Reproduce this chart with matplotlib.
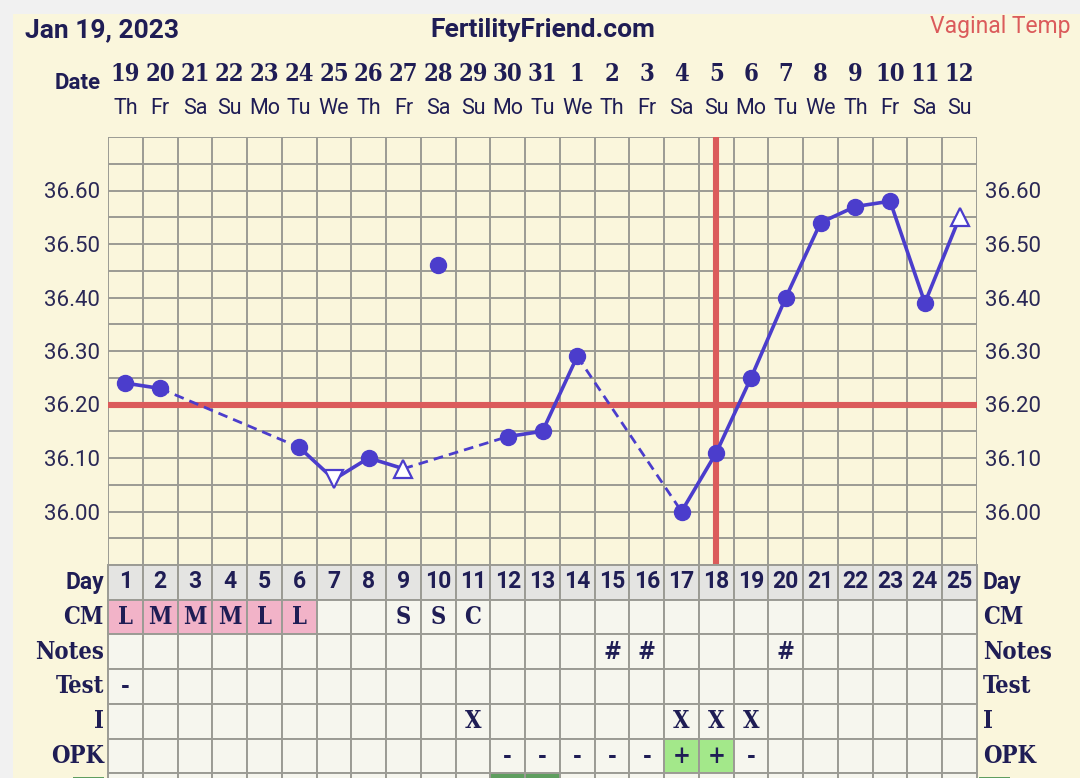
import matplotlib
matplotlib.use("Agg")
import matplotlib.pyplot as plt
from matplotlib.patches import Rectangle
import numpy as np

# ---------------- data ----------------
title_date = "Jan 19, 2023"
site_name = "FertilityFriend.com"
temp_type = "Vaginal Temp"
dates = ["19", "20", "21", "22", "23", "24", "25", "26", "27", "28", "29", "30", "31",
         "1", "2", "3", "4", "5", "6", "7", "8", "9", "10", "11", "12"]
weekdays = ["Th", "Fr", "Sa", "Su", "Mo", "Tu", "We", "Th", "Fr", "Sa", "Su", "Mo", "Tu",
            "We", "Th", "Fr", "Sa", "Su", "Mo", "Tu", "We", "Th", "Fr", "Sa", "Su"]
cycle_days = list(range(1, 26))
temps = [36.24, 36.23, None, None, None, 36.12, 36.06, 36.10, 36.08, 36.46,
         None, 36.14, 36.15, 36.29, None, None, 36.00, 36.11, 36.25, 36.40,
         36.54, 36.57, 36.58, 36.39, 36.55]
discarded_days = [10]
open_down_days = [7]
open_up_days = [9, 25]
coverline = 36.20
ovulation_day = 18
ytick_values = [36.00, 36.10, 36.20, 36.30, 36.40, 36.50, 36.60]
y_min, y_max, y_step = 35.90, 36.70, 0.05

row_labels = ["Day", "CM", "Notes", "Test", "I", "OPK"]
cm_marks = {1: "L", 2: "M", 3: "M", 4: "M", 5: "L", 6: "L", 9: "S", 10: "S", 11: "C"}
cm_pink_days = [1, 2, 3, 4, 5, 6]
notes_marks = {15: "#", 16: "#", 20: "#"}
test_marks = {1: "-"}
intercourse_marks = {11: "X", 17: "X", 18: "X", 19: "X"}
opk_marks = {12: "-", 13: "-", 14: "-", 15: "-", 16: "-", 17: "+", 18: "+", 19: "-"}
opk_positive_days = [17, 18]
next_row_green_days = [12, 13]

# ---------------- style ----------------
CREAM = "#faf6dc"
OUTER = "#f1f1f1"
GRID = "#9b9b94"
NAVY = "#1f1d55"
BLUE = "#4b3dcc"
RED = "#db5b5b"
CELL = "#f6f6ee"
DAYCELL = "#e4e4e2"
PINK = "#f2b3c8"
LGREEN = "#a3e88a"
DGREEN = "#5f9e5f"
SANS = "Roboto"
SLAB = "DejaVu Serif"

W, H = 1080, 778
fig = plt.figure(figsize=(W / 100, H / 100), dpi=100)
fig.patch.set_facecolor(OUTER)


def fx(px):
    return px / W


def fy(py):
    return 1 - py / H


fig.add_artist(Rectangle((fx(13), 0), 1 - fx(13), fy(14), transform=fig.transFigure,
                         facecolor=CREAM, edgecolor="none", zorder=0))

GL, GR, GT, GB = 108, 977, 137, 565
COLW = (GR - GL) / 25.0

# ---------------- temperature chart ----------------
ax = fig.add_axes([fx(GL), fy(GB), (GR - GL) / W, (GB - GT) / H])
ax.set_facecolor(CREAM)
ax.set_xlim(0.5, 25.5)
ax.set_ylim(y_min, y_max)
for s in ax.spines.values():
    s.set_visible(False)
for xv in np.arange(0.5, 25.6, 1.0):
    ax.axvline(xv, color=GRID, lw=1.4, zorder=1)
for yv in np.arange(y_min, y_max + 1e-6, y_step):
    ax.axhline(yv, color=GRID, lw=1.4, zorder=1)

ax.axhline(coverline, color=RED, lw=4.4, zorder=2)
ax.axvline(ovulation_day, color=RED, lw=4.4, zorder=2)

valid = [(d, t) for d, t in zip(cycle_days, temps) if t is not None and d not in discarded_days]
for (d0, t0), (d1, t1) in zip(valid[:-1], valid[1:]):
    if d1 - d0 == 1:
        ax.plot([d0, d1], [t0, t1], color=BLUE, lw=2.6, zorder=3, solid_capstyle="round")
    else:
        ax.plot([d0, d1], [t0, t1], color=BLUE, lw=2.0, ls=(0, (3.5, 2.2)), zorder=3)

for d, t in zip(cycle_days, temps):
    if t is None:
        continue
    if d in open_down_days:
        ax.plot(d, t, marker="v", ms=13, mfc="white", mec=BLUE, mew=1.6, zorder=4)
    elif d in open_up_days:
        ax.plot(d, t, marker="^", ms=13, mfc="white", mec=BLUE, mew=1.6, zorder=4)
    else:
        ax.plot(d, t, marker="o", ms=11.5, color=BLUE, zorder=4)

ax.set_xticks([])
ax.set_yticks(ytick_values)
ax.set_yticklabels([f"{v:.2f}" for v in ytick_values])
ax.tick_params(axis="y", length=0, labelleft=True, labelright=True, pad=6,
               labelsize=16, labelcolor="#2a2856")
for lab in ax.get_yticklabels():
    lab.set_fontfamily(SANS)

# date header
xt = ax.get_xaxis_transform()


def afrac(py):
    return (GB - py) / (GB - GT)


for d, ds, wd in zip(cycle_days, dates, weekdays):
    ax.text(d, afrac(74), ds, transform=xt, ha="center", va="center", fontsize=17,
            fontweight="bold", family=SLAB, fontstretch="condensed", color=NAVY)
    ax.text(d, afrac(108), wd, transform=xt, ha="center", va="center", fontsize=15.5,
            family=SANS, color=NAVY)

fig.text(fx(101), fy(83), "Date", ha="right", va="center", fontsize=16,
         fontweight="bold", family=SANS, color=NAVY)
fig.text(fx(25), fy(30), title_date, ha="left", va="center", fontsize=19,
         fontweight="bold", family=SANS, color=NAVY)
fig.text(fx(543), fy(30), site_name, ha="center", va="center", fontsize=19,
         fontweight="bold", family=SANS, color=NAVY)
fig.text(fx(1070), fy(27), temp_type, ha="right", va="center", fontsize=16.5,
         family=SANS, color=RED)

# ---------------- table ----------------
ROWH = 34.7
tab = fig.add_axes([fx(GL), 0, (GR - GL) / W, (H - GB) / H])
tab.set_xlim(0.5, 25.5)
tab.set_ylim((H - GB) / ROWH, 0)
tab.axis("off")

row_data = [None, cm_marks, notes_marks, test_marks, intercourse_marks, opk_marks, {}]
for r in range(7):
    for d in cycle_days:
        fc = CELL
        if r == 0:
            fc = DAYCELL
        elif r == 1 and d in cm_pink_days:
            fc = PINK
        elif r == 5 and d in opk_positive_days:
            fc = LGREEN
        elif r == 6 and d in next_row_green_days:
            fc = DGREEN
        tab.add_patch(Rectangle((d - 0.5, r), 1, 1, facecolor=fc, edgecolor=GRID, lw=1.4,
                                zorder=1, clip_on=False))
        if r == 0:
            tab.text(d, r + 0.48, str(d), ha="center", va="center", fontsize=16.5,
                     fontweight="bold", family=SANS, color=NAVY, zorder=3)
        elif row_data[r] and d in row_data[r]:
            tab.text(d, r + 0.5, row_data[r][d], ha="center", va="center", fontsize=17,
                     fontweight="bold", family=SLAB, fontstretch="condensed",
                     color=NAVY, zorder=3)

for r, lab in enumerate(row_labels):
    fam = SANS if r == 0 else SLAB
    kw = dict(va="center", fontsize=16.5 if r == 0 else 17, fontweight="bold",
              family=fam, color=NAVY)
    if r > 0:
        kw["fontstretch"] = "condensed"
    tab.text(0.5 - 4 / COLW, r + 0.5, lab, ha="right", **kw)
    tab.text(25.5 + 6 / COLW, r + 0.5, lab, ha="left", **kw)

# partially visible next-row label tabs
tab.add_patch(Rectangle((0.5 - 35 / COLW, 6.1), 31 / COLW, 1, facecolor=DGREEN,
                        edgecolor="none", clip_on=False))
tab.add_patch(Rectangle((25.5 + 2 / COLW, 6.1), 31 / COLW, 1, facecolor=DGREEN,
                        edgecolor="none", clip_on=False))

fig.savefig("out.png", dpi=100, facecolor=fig.get_facecolor())
